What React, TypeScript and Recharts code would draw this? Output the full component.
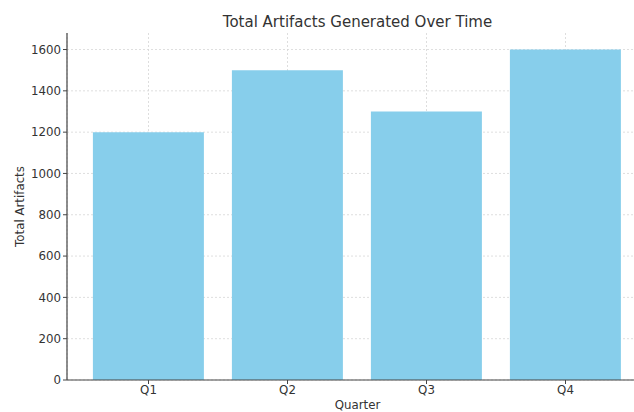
import React from "react";
import {
  BarChart,
  Bar,
  XAxis,
  YAxis,
  CartesianGrid,
} from "recharts";

const quarters = ["Q1", "Q2", "Q3", "Q4"];
const artifacts = [1200, 1500, 1300, 1600];
const yTicks = [0, 200, 400, 600, 800, 1000, 1200, 1400, 1600];

const data = quarters.map((q, i) => ({ quarter: q, total: artifacts[i] }));

const font = "'DejaVu Sans', sans-serif";
const tickStyle = { fontSize: 11.8, fill: "#333", fontFamily: font };

export default function App() {
  return (
    <div
      style={{
        position: "absolute",
        left: 0,
        top: 0,
        width: 634,
        height: 412,
        overflow: "hidden",
        background: "#fff",
      }}
    >
      <div
        style={{
          position: "absolute",
          left: 0,
          top: 15,
          width: 715,
          textAlign: "center",
          fontFamily: font,
          fontSize: 15,
          lineHeight: "15px",
          color: "#333",
        }}
      >
        Total Artifacts Generated Over Time
      </div>
      <BarChart
        width={680}
        height={412}
        data={data}
        margin={{ top: 33, right: 32, left: 0, bottom: 0 }}
        barCategoryGap="10%"
      >
        <XAxis
          dataKey="quarter"
          height={32}
          padding={{ left: 12, right: 13 }}
          tick={tickStyle}
          tickSize={4}
          tickLine={{ stroke: "#444" }}
          axisLine={{ stroke: "#444", strokeWidth: 1.2 }}
          label={{
            value: "Quarter",
            position: "insideBottom",
            offset: 3,
            style: { fontSize: 11.8, fill: "#333", fontFamily: font },
          }}
        />
        <YAxis
          width={67}
          domain={[0, 1680]}
          ticks={yTicks}
          tick={tickStyle}
          tickSize={4}
          tickLine={{ stroke: "#444" }}
          axisLine={{ stroke: "#444", strokeWidth: 1.2 }}
          label={{
            value: "Total Artifacts",
            angle: -90,
            position: "insideLeft",
            offset: 20,
            style: { fontSize: 11.8, fill: "#333", fontFamily: font, textAnchor: "middle" },
          }}
        />
        <Bar dataKey="total" fill="#87CEEB" isAnimationActive={false} />
        <CartesianGrid
          stroke="#d6d6d6"
          strokeDasharray="2 2"
          strokeWidth={0.8}
          horizontalValues={yTicks}
        />
      </BarChart>
    </div>
  );
}
